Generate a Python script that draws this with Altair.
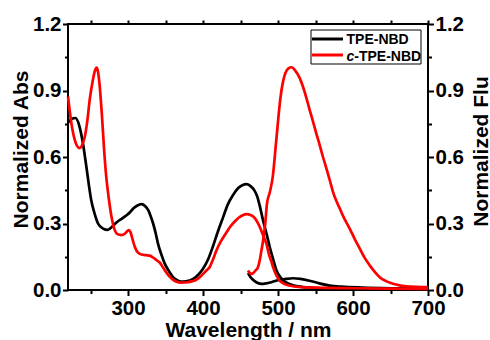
import altair as alt
import pandas as pd

# ---- data ----
tpe_abs_wl = [220, 225, 230, 235, 240, 244.5, 248, 251, 255, 260, 266.7, 273, 280, 286.7, 292, 298,
              303, 307, 312, 318, 323, 327, 330, 333.5, 337, 340, 345, 349, 355, 360, 366, 371, 377,
              387, 394, 400, 407, 413, 420, 427, 433, 440, 447, 453, 458, 463, 468, 472, 476, 480,
              485, 489, 493, 498, 503, 507, 512, 518, 530, 550, 600, 650, 700]
tpe_abs = [0.755, 0.772, 0.776, 0.742, 0.66, 0.556, 0.47, 0.405, 0.35, 0.30, 0.277, 0.271, 0.29, 0.31,
           0.322, 0.337, 0.352, 0.368, 0.38, 0.387, 0.378, 0.36, 0.335, 0.30, 0.255, 0.209, 0.155,
           0.119, 0.083, 0.058, 0.043, 0.038, 0.039, 0.05, 0.07, 0.096, 0.14, 0.194, 0.265, 0.33,
           0.385, 0.428, 0.46, 0.474, 0.478, 0.47, 0.452, 0.425, 0.375, 0.315, 0.25, 0.194, 0.145,
           0.088, 0.058, 0.043, 0.032, 0.024, 0.015, 0.009, 0.005, 0.003, 0.002]

ctpe_abs_wl = [220, 224.5, 229, 232, 235.6, 239, 242.3, 246, 249, 253.3, 256, 258, 260, 262, 265, 268,
               271, 274.7, 278, 282.3, 286, 291, 295, 298, 301, 303.5, 306, 309, 313, 318, 324, 329,
               334, 338, 342.3, 347, 352, 358, 364, 371, 379, 386, 391, 398, 404.5, 409, 413, 418,
               423, 427, 431, 436, 442, 448, 453, 458, 464, 468, 471, 475, 478, 481, 484.5, 488, 491,
               493.4, 497, 502, 508, 515, 530, 560, 600, 650, 700]
ctpe_abs = [0.873, 0.753, 0.677, 0.65, 0.64, 0.655, 0.69, 0.77, 0.86, 0.95, 0.99, 1.003, 0.985, 0.93,
            0.80, 0.64, 0.51, 0.405, 0.33, 0.27, 0.252, 0.248, 0.252, 0.262, 0.27, 0.26, 0.23, 0.195,
            0.17, 0.16, 0.157, 0.155, 0.145, 0.135, 0.124, 0.10, 0.075, 0.052, 0.038, 0.033, 0.035,
            0.04, 0.046, 0.065, 0.088, 0.104, 0.135, 0.179, 0.215, 0.237, 0.258, 0.284, 0.308, 0.327,
            0.337, 0.342, 0.337, 0.328, 0.315, 0.29, 0.265, 0.24, 0.209, 0.16, 0.13, 0.103, 0.072,
            0.043, 0.028, 0.02, 0.013, 0.01, 0.008, 0.006, 0.005]

tpe_flu_wl = [460, 463, 467, 471, 476, 480, 486, 492, 502, 510, 520, 530, 542, 555, 569, 585, 613, 650, 700]
tpe_flu = [0.076, 0.06, 0.045, 0.035, 0.029, 0.028, 0.031, 0.036, 0.046, 0.05, 0.053, 0.05, 0.042,
           0.03, 0.02, 0.015, 0.011, 0.008, 0.006]

ctpe_flu_wl = [460, 462, 464.5, 467, 470, 473.3, 476, 478, 480, 483, 485.3, 489, 493, 497, 500, 503,
               506.7, 510, 514, 518, 523, 529, 534, 537.9, 542, 546.7, 551, 555.6, 560, 564.5, 569,
               573.3, 578, 582.3, 588, 595.6, 602, 609, 615, 622.3, 629, 635.6, 644, 653.3, 662, 671,
               685, 700]
ctpe_flu = [0.088, 0.078, 0.073, 0.076, 0.088, 0.103, 0.14, 0.18, 0.22, 0.30, 0.39, 0.44, 0.51, 0.65,
            0.76, 0.86, 0.94, 0.98, 1.0, 1.005, 0.99, 0.956, 0.91, 0.866, 0.815, 0.76, 0.707, 0.654,
            0.60, 0.549, 0.496, 0.443, 0.40, 0.368, 0.325, 0.277, 0.232, 0.187, 0.148, 0.111, 0.082,
            0.058, 0.04, 0.028, 0.021, 0.017, 0.014, 0.013]

x_major = [300, 400, 500, 600, 700]
x_minor = [250, 350, 450, 550, 650]
x_top = [250, 300, 350, 400, 450, 500, 550, 600, 650, 700]
y_major = [0.0, 0.3, 0.6, 0.9, 1.2]
y_minor = [0.15, 0.45, 0.75, 1.05]
legend_names = ["TPE-NBD", "c-TPE-NBD"]

# ---- table ----
rows = []
for name, wl, val in [("tpe_abs", tpe_abs_wl, tpe_abs), ("tpe_flu", tpe_flu_wl, tpe_flu),
                      ("ctpe_abs", ctpe_abs_wl, ctpe_abs), ("ctpe_flu", ctpe_flu_wl, ctpe_flu)]:
    for i, (w, v) in enumerate(zip(wl, val)):
        rows.append({"series": name, "wl": w, "value": v, "order": i})
df = pd.DataFrame(rows)
black_df = df[df.series.str.startswith("tpe")]
red_df = df[df.series.str.startswith("ctpe")]

FONT = "Liberation Sans"
xscale = alt.Scale(domain=[220, 700], nice=False, zero=False)
yscale = alt.Scale(domain=[0, 1.2], nice=False)

common = dict(domain=False, grid=False, tickColor="black", tickWidth=2,
              labelFont=FONT, labelFontWeight="bold", labelColor="black", labelFontSize=20.5,
              titleFont=FONT, titleFontWeight="bold", titleColor="black", titleFontSize=21)

x_bottom_major = alt.Axis(orient="bottom", values=x_major, format="d", tickSize=5.5, labelPadding=3,
                          labelFlush=False, labelOverlap=False, title="Wavelength / nm",
                          titleY=46, titleBaseline="alphabetic", **common)
x_bottom_minor = alt.Axis(orient="bottom", values=x_minor, labels=False, tickSize=3.5, title="", **common)
x_top_axis = alt.Axis(orient="top", values=x_top, labels=False, tickSize=4, title="", **common)

y_left_major = alt.Axis(orient="left", values=y_major, format=".1f", tickSize=5.5, labelPadding=1.5,
                        labelFlush=False, labelOverlap=False, title="Normalized Abs",
                        titleX=-41, titleY=125, titleAngle=270, titleAlign="center",
                        titleBaseline="alphabetic", **common)
y_left_minor = alt.Axis(orient="left", values=y_minor, labels=False, tickSize=3.5, title="", **common)
y_right_major = alt.Axis(orient="right", values=y_major, format=".1f", tickSize=5.5, labelPadding=1.5,
                         labelFlush=False, labelOverlap=False, title="Normalized Flu",
                         titleX=59, titleY=127, titleAngle=270, titleAlign="center",
                         titleBaseline="alphabetic", **common)
y_right_minor = alt.Axis(orient="right", values=y_minor, labels=False, tickSize=3.5, title="", **common)

black_layer = alt.Chart(black_df).mark_line(color="black", strokeWidth=2.7, interpolate="monotone").encode(
    x=alt.X("wl:Q", scale=xscale, axis=x_bottom_major),
    y=alt.Y("value:Q", scale=yscale, axis=y_left_major),
    detail="series:N",
    order="order:Q",
)
red_layer = alt.Chart(red_df).mark_line(color="#ff0000", strokeWidth=2.7, interpolate="monotone").encode(
    x=alt.X("wl:Q", scale=xscale, axis=x_bottom_minor),
    y=alt.Y("value:Q", scale=yscale, axis=y_left_minor),
    detail="series:N",
    order="order:Q",
)
axis_c = alt.Chart(df).mark_point(opacity=0).encode(
    x=alt.X("wl:Q", scale=xscale, axis=x_top_axis),
    y=alt.Y("value:Q", scale=yscale, axis=y_right_major),
)
axis_d = alt.Chart(df).mark_point(opacity=0).encode(
    x=alt.X("wl:Q", scale=xscale, axis=None),
    y=alt.Y("value:Q", scale=yscale, axis=y_right_minor),
)

# ---- legend (drawn as a framed box) ----
leg_df = pd.DataFrame({"name": legend_names})
leg_box = alt.Chart(leg_df.head(1)).mark_rect(fill="white", stroke="black", strokeWidth=1).encode(
    x=alt.value(243), x2=alt.value(353), y=alt.value(6), y2=alt.value(40))
leg_line1 = alt.Chart(leg_df.head(1)).mark_rule(color="black", strokeWidth=3).encode(
    x=alt.value(244), x2=alt.value(275), y=alt.value(15))
leg_line2 = alt.Chart(leg_df.head(1)).mark_rule(color="#ff0000", strokeWidth=3).encode(
    x=alt.value(244), x2=alt.value(275), y=alt.value(31))
txt = dict(font=FONT, fontWeight="bold", fontSize=14, align="left", baseline="alphabetic", color="black")
leg_t1 = alt.Chart(leg_df.head(1)).mark_text(**txt).encode(
    x=alt.value(278.5), y=alt.value(20), text=alt.value(legend_names[0]))
leg_t2a = alt.Chart(leg_df.head(1)).mark_text(fontStyle="italic", **txt).encode(
    x=alt.value(278.5), y=alt.value(36.5), text=alt.value(legend_names[1][0]))
leg_t2b = alt.Chart(leg_df.head(1)).mark_text(**txt).encode(
    x=alt.value(286.3), y=alt.value(36.5), text=alt.value(legend_names[1][1:]))

chart = alt.layer(black_layer, red_layer, axis_c, axis_d,
                  leg_box, leg_line1, leg_line2, leg_t1, leg_t2a, leg_t2b).resolve_axis(
    x="independent", y="independent"
).properties(
    width=360, height=266,
    autosize=alt.AutoSizeParams(type="none"),
    padding={"left": 68, "top": 24, "right": 62, "bottom": 50},
    background="white",
).configure_view(stroke="black", strokeWidth=2)

chart.save("out.html", embed_options={"renderer": "svg", "actions": False})
